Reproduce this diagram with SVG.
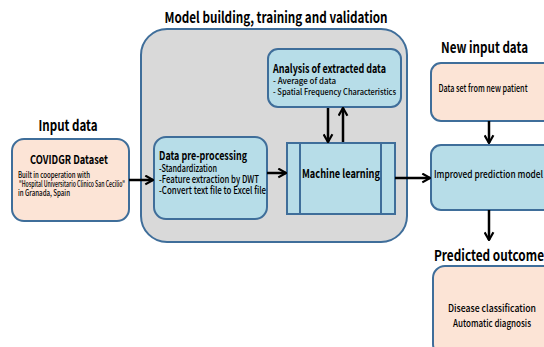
<svg xmlns="http://www.w3.org/2000/svg" width="544" height="347" viewBox="0 0 544 347">
  <style>
    text { font-family: "Noto Sans CJK KR", "Noto Sans", "Liberation Sans", sans-serif; fill: #000; }
    .title { font-size: 15px; font-weight: bold; }
    .head { font-size: 12px; font-weight: bold; }
    .body { font-size: 10px; font-weight: 500; }
    .small { font-size: 8.5px; font-weight: 500; }
    .peach { fill: #FCE4D6; stroke: #3F6E9A; stroke-width: 2; }
    .blue { fill: #B7DDE8; stroke: #3F6E9A; stroke-width: 2; }
    .panel { fill: #D9D9D9; stroke: #3F6E9A; stroke-width: 2; }
    .wire { fill: none; stroke: #000; stroke-width: 2.5; marker-end: url(#chev); }
  </style>
  <defs>
    <marker id="chev" viewBox="0 0 10 10" refX="9" refY="5" markerWidth="4.4" markerHeight="4.4" orient="auto" markerUnits="strokeWidth">
      <path d="M2,1 L9,5 L2,9" fill="none" stroke="#000" stroke-width="2"/>
    </marker>
  </defs>

  <rect width="544" height="347" fill="#fff"/>

  <!-- section headings -->
  <text class="title" x="276" y="23" text-anchor="middle" textLength="223" lengthAdjust="spacingAndGlyphs">Model building, training and validation</text>
  <text class="title" x="68" y="131" text-anchor="middle" textLength="59" lengthAdjust="spacingAndGlyphs">Input data</text>
  <text class="title" x="441" y="53" textLength="87" lengthAdjust="spacingAndGlyphs">New input data</text>
  <text class="title" x="434" y="261" textLength="110" lengthAdjust="spacingAndGlyphs">Predicted outcome</text>

  <!-- model building panel -->
  <g id="panel">
    <rect class="panel" x="141" y="29" width="266" height="213" rx="26"/>
  </g>

  <g id="covidgr">
    <rect class="peach" x="12" y="139" width="117" height="82" rx="12"/>
    <text class="head" x="69" y="164" text-anchor="middle" textLength="78" lengthAdjust="spacingAndGlyphs">COVIDGR Dataset</text>
    <text class="small" x="18" y="178" textLength="72" lengthAdjust="spacingAndGlyphs" font-size="7.5">Built in cooperation with</text>
    <text class="small" x="19" y="187" textLength="106" lengthAdjust="spacingAndGlyphs" font-size="7.5">"Hospital Universitario Clinico San Cecilio"</text>
    <text class="small" x="18" y="196" textLength="52" lengthAdjust="spacingAndGlyphs" font-size="8">in Granada, Spain</text>
  </g>

  <g id="preprocessing">
    <rect class="blue" x="154" y="137" width="113" height="82" rx="12"/>
    <text class="head" x="159" y="160" textLength="88" lengthAdjust="spacingAndGlyphs">Data pre-processing</text>
    <text class="body" x="159" y="172" textLength="58" lengthAdjust="spacingAndGlyphs">-Standardization</text>
    <text class="body" x="159" y="183" textLength="100" lengthAdjust="spacingAndGlyphs">-Feature extraction by DWT</text>
    <text class="body" x="159" y="194" textLength="107" lengthAdjust="spacingAndGlyphs">-Convert text file to Excel file</text>
  </g>

  <g id="analysis">
    <rect class="blue" x="268" y="49" width="133" height="58" rx="10"/>
    <text class="head" x="273" y="73" textLength="113" lengthAdjust="spacingAndGlyphs">Analysis of extracted data</text>
    <text class="small" x="273" y="84" textLength="63" lengthAdjust="spacingAndGlyphs">- Average of data</text>
    <text class="small" x="273" y="95" textLength="123" lengthAdjust="spacingAndGlyphs">- Spatial Frequency Characteristics</text>
  </g>

  <g id="machine-learning">
    <rect class="blue" x="287" y="143" width="108" height="71"/>
    <line x1="300" y1="143" x2="300" y2="214" stroke="#3F6E9A" stroke-width="2"/>
    <line x1="381" y1="143" x2="381" y2="214" stroke="#3F6E9A" stroke-width="2"/>
    <text class="head" x="341" y="178" text-anchor="middle" textLength="78" lengthAdjust="spacingAndGlyphs" font-size="11">Machine  learning</text>
  </g>

  <g id="new-patient">
    <rect class="peach" x="431" y="63" width="125" height="58" rx="10"/>
    <text class="body" x="483" y="92" text-anchor="middle" textLength="89" lengthAdjust="spacingAndGlyphs">Data set from new patient</text>
  </g>

  <g id="improved-model">
    <rect class="blue" x="431" y="145" width="125" height="65" rx="10"/>
    <text class="body" x="434" y="178" textLength="109" lengthAdjust="spacingAndGlyphs" font-size="10.5">Improved prediction model</text>
  </g>

  <g id="outcome">
    <rect class="peach" x="433" y="266" width="123" height="90" rx="12"/>
    <text class="body" x="492" y="312" text-anchor="middle" textLength="88" lengthAdjust="spacingAndGlyphs" font-size="11">Disease classification</text>
    <text class="body" x="492" y="327" text-anchor="middle" textLength="78" lengthAdjust="spacingAndGlyphs" font-size="11">Automatic diagnosis</text>
  </g>

  <!-- connectors -->
  <g id="connectors">
    <path class="wire" d="M129,180 H153"/>
    <path class="wire" d="M267,173 H286"/>
    <path class="wire" d="M328,108 V142"/>
    <path class="wire" d="M343,142 V108"/>
    <path class="wire" d="M395,178 H430"/>
    <path class="wire" d="M489,121 V143"/>
    <path class="wire" d="M489,210 V240"/>
  </g>
</svg>
